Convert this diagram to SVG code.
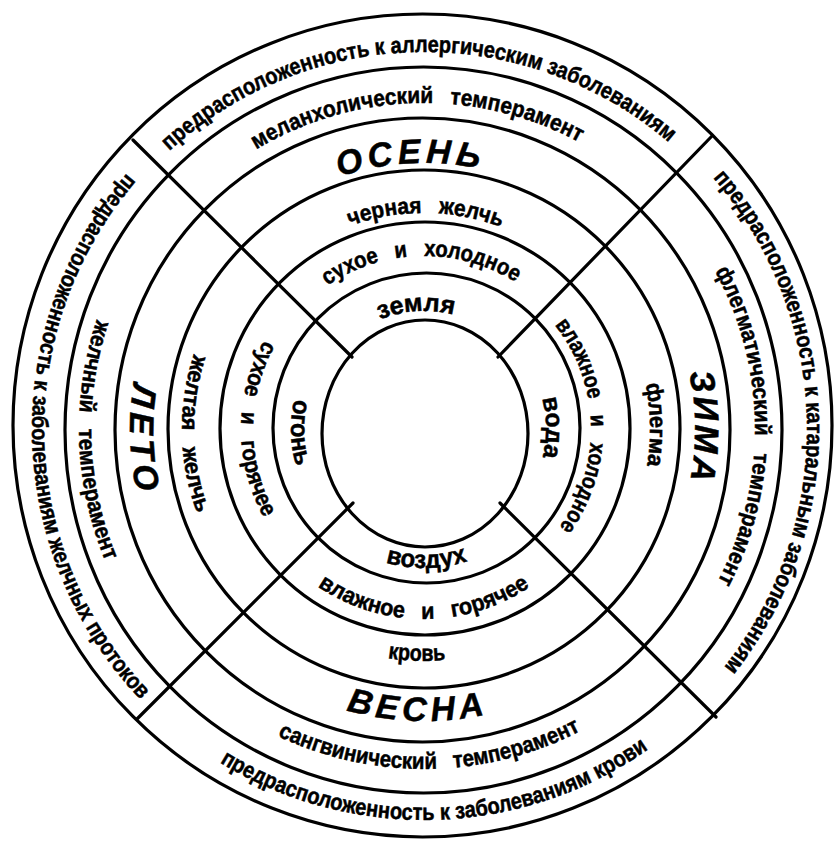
<svg xmlns="http://www.w3.org/2000/svg" width="835" height="843" viewBox="0 0 835 843">
<style>
.ring{fill:none;stroke:#000;stroke-width:3.2}
.div{stroke:#000;stroke-width:3.2;stroke-linecap:round}
text{font-family:"Liberation Sans",Arial,sans-serif;font-weight:bold;font-size:23px;fill:#000;stroke:#000;stroke-width:0.5}
.s{font-size:34px;font-style:italic}
.e{font-size:25px}
.w{word-spacing:12px}
</style>
<defs>
<path id="t1" d="M169.30,151.05 A377,377 0 0 1 668.84,142.33"/>
<path id="t2" d="M256.10,149.56 A326,326 0 0 1 579.55,142.50"/>
<path id="t3" d="M339.60,176.75 A266,266 0 0 1 479.30,168.81"/>
<path id="t4" d="M350.12,226.03 A216,216 0 0 1 501.41,227.35"/>
<path id="t5" d="M327.26,285.58 A173,173 0 0 1 515.68,282.29"/>
<path id="t6" d="M379.80,319.59 A118,118 0 0 1 453.54,314.76"/>
<path id="b1" d="M219.70,762.38 A391,391 0 0 0 648.27,749.29"/>
<path id="b2" d="M277.63,735.88 A340,340 0 0 0 581.00,730.58"/>
<path id="b3" d="M345.97,710.38 A292,292 0 0 0 484.71,714.62"/>
<path id="b4" d="M387.71,658.14 A232,232 0 0 0 446.24,659.93"/>
<path id="b5" d="M317.75,586.52 A190,190 0 0 0 530.25,586.52"/>
<path id="b6" d="M385.69,562.62 A139,139 0 0 0 469.25,560.43"/>
<path id="l1" d="M126.81,173.38 A392,392 0 0 0 140.13,699.33"/>
<path id="l2" d="M96.83,319.53 A345,345 0 0 0 105.26,561.03"/>
<path id="l3" d="M133.62,383.01 A294,294 0 0 0 136.97,492.63"/>
<path id="l4" d="M193.84,354.22 A242,242 0 0 0 197.33,513.75"/>
<path id="l5" d="M263.94,340.28 A183,183 0 0 0 263.94,517.72"/>
<path id="l6" d="M294.41,399.08 A133,133 0 0 0 296.48,466.77"/>
<path id="r1" d="M713.05,177.73 A383,383 0 0 1 723.74,667.42"/>
<path id="r2" d="M714.89,271.06 A331,331 0 0 1 717.60,581.84"/>
<path id="r3" d="M689.08,372.66 A271,271 0 0 1 690.02,480.71"/>
<path id="r4" d="M645.46,383.94 A226,226 0 0 1 646.90,466.30"/>
<path id="r5" d="M554.70,325.04 A167,167 0 0 1 559.11,527.16"/>
<path id="r6" d="M542.11,398.45 A122,122 0 0 1 542.63,457.48"/>
</defs>
<rect width="835" height="843" fill="#fff"/>
<g id="rings">
<ellipse class="ring" cx="422.5" cy="425.5" rx="409.5" ry="411.5"/>
<ellipse class="ring" cx="423.5" cy="430" rx="358.5" ry="363"/>
<ellipse class="ring" cx="422.5" cy="430" rx="307.5" ry="312"/>
<ellipse class="ring" cx="424" cy="429" rx="256" ry="259"/>
<ellipse class="ring" cx="425" cy="428.5" rx="205" ry="206.5"/>
<ellipse class="ring" cx="426.5" cy="428" rx="153.5" ry="155"/>
<ellipse class="ring" cx="425" cy="433.5" rx="103" ry="113.5"/>
</g>
<g id="connectors">
<line class="div" x1="352" y1="357" x2="133" y2="140"/>
<line class="div" x1="498" y1="357" x2="712" y2="136"/>
<line class="div" x1="353" y1="503" x2="137" y2="719"/>
<line class="div" x1="500" y1="503" x2="716" y2="717"/>
</g>
<g id="autumn">
<text><textPath href="#t1" textLength="546" lengthAdjust="spacingAndGlyphs">предрасположенность к аллергическим заболеваниям</textPath></text>
<text class="w"><textPath href="#t2" textLength="338" lengthAdjust="spacingAndGlyphs">меланхолический темперамент</textPath></text>
<text class="s"><textPath href="#t3" textLength="141" lengthAdjust="spacing">ОСЕНЬ</textPath></text>
<text class="w"><textPath href="#t4" textLength="154" lengthAdjust="spacingAndGlyphs">черная желчь</textPath></text>
<text class="w"><textPath href="#t5" textLength="199" lengthAdjust="spacingAndGlyphs">сухое и холодное</textPath></text>
<text class="e"><textPath href="#t6" textLength="75" lengthAdjust="spacingAndGlyphs">земля</textPath></text>
</g>
<g id="spring">
<text><textPath href="#b1" textLength="454" lengthAdjust="spacingAndGlyphs">предрасположенность к заболеваниям крови</textPath></text>
<text class="w"><textPath href="#b2" textLength="314" lengthAdjust="spacingAndGlyphs">сангвинический темперамент</textPath></text>
<text class="s"><textPath href="#b3" textLength="140" lengthAdjust="spacing">ВЕСНА</textPath></text>
<text><textPath href="#b4" textLength="58" lengthAdjust="spacingAndGlyphs">кровь</textPath></text>
<text class="w"><textPath href="#b5" textLength="225" lengthAdjust="spacingAndGlyphs">влажное и горячее</textPath></text>
<text class="e"><textPath href="#b6" textLength="83" lengthAdjust="spacingAndGlyphs">воздух</textPath></text>
</g>
<g id="summer">
<text><textPath href="#l1" textLength="577" lengthAdjust="spacingAndGlyphs">предрасположенность к заболеваниям желчных протоков</textPath></text>
<text class="w"><textPath href="#l2" textLength="247" lengthAdjust="spacingAndGlyphs">желчный темперамент</textPath></text>
<text class="s"><textPath href="#l3" textLength="110" lengthAdjust="spacing">ЛЕТО</textPath></text>
<text class="w"><textPath href="#l4" textLength="162" lengthAdjust="spacingAndGlyphs">желтая желчь</textPath></text>
<text class="w"><textPath href="#l5" textLength="185" lengthAdjust="spacingAndGlyphs">сухое и горячее</textPath></text>
<text class="e"><textPath href="#l6" textLength="68" lengthAdjust="spacingAndGlyphs">огонь</textPath></text>
</g>
<g id="winter">
<text><textPath href="#r1" textLength="531" lengthAdjust="spacingAndGlyphs">предрасположенность к катаральным заболеваниям</textPath></text>
<text class="w"><textPath href="#r2" textLength="323" lengthAdjust="spacingAndGlyphs">флегматический темперамент</textPath></text>
<text class="s"><textPath href="#r3" textLength="108" lengthAdjust="spacing">ЗИМА</textPath></text>
<text><textPath href="#r4" textLength="82" lengthAdjust="spacingAndGlyphs">флегма</textPath></text>
<text class="w"><textPath href="#r5" textLength="217" lengthAdjust="spacingAndGlyphs">влажное и холодное</textPath></text>
<text class="e"><textPath href="#r6" textLength="59" lengthAdjust="spacingAndGlyphs">вода</textPath></text>
</g>
</svg>
